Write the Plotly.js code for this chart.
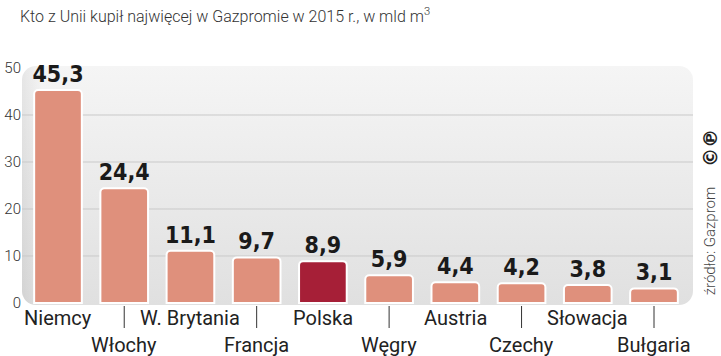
<!DOCTYPE html>
<html>
<head>
<meta charset="utf-8">
<script src="https://cdn.plot.ly/plotly-3.0.1.min.js"></script>
<style>html,body{margin:0;padding:0;background:#fff;}#chart{width:721px;height:356px;}</style>
</head>
<body>
<div id="chart"></div>
<script>
var categories = ["Niemcy","Włochy","W. Brytania","Francja","Polska","Węgry","Austria","Czechy","Słowacja","Bułgaria"];
var values = [45.3, 24.4, 11.1, 9.7, 8.9, 5.9, 4.4, 4.2, 3.8, 3.1];
var highlight = "Polska";
var yTicks = [0, 10, 20, 30, 40, 50];
var titleText = "Kto z Unii kupił najwięcej w Gazpromie w 2015 r., w mld m<sup>3</sup>";
var sourceText = "źródło: Gazprom";
var logoText = "©℗";

var barColor = "#df907c", hiColor = "#a61f37";
var colors = categories.map(function(c){ return c === highlight ? hiColor : barColor; });

var svg = '<svg xmlns="http://www.w3.org/2000/svg" width="671" height="239" viewBox="0 0 671 239" preserveAspectRatio="none">' +
  '<defs><linearGradient id="g" x1="0" y1="0" x2="0" y2="1"><stop offset="0" stop-color="#f5f5f5"/><stop offset="1" stop-color="#e0e0e0"/></linearGradient>' +
  '<linearGradient id="h" x1="0" y1="0" x2="1" y2="0"><stop offset="0" stop-color="#000" stop-opacity="0.06"/><stop offset="0.03" stop-color="#000" stop-opacity="0"/></linearGradient></defs>' +
  '<rect x="0" y="0" width="671" height="239" rx="14" ry="14" fill="url(#g)"/>' +
  '<rect x="0" y="0" width="671" height="239" rx="14" ry="14" fill="url(#h)"/></svg>';
var bgSrc = "data:image/svg+xml;charset=utf-8," + encodeURIComponent(svg);

var trace = {
  type: "bar",
  x: categories,
  y: values,
  marker: { color: colors, line: { color: "#ffffff", width: 2 }, cornerradius: 4 },
  texttemplate: "%{y:.1f}",
  textposition: "outside",
  constraintext: "none",
  cliponaxis: false,
  textfont: { family: "DejaVu Sans Condensed", size: 23, weight: "bold", color: "#1a1a1a" },
  hoverinfo: "none"
};

var annotations = [], shapes = [];
var plotH = 239;
categories.forEach(function(c, i){
  var second = i % 2 === 1;
  annotations.push({
    x: c, xref: "x", y: 0, yref: "paper", yanchor: "middle", xanchor: "center",
    yshift: second ? -40 : -13,
    text: c, showarrow: false,
    font: { family: "Roboto", size: 20, color: "#222222" }
  });
  if (second) {
    shapes.push({ type: "line", xref: "x", yref: "paper", x0: i, x1: i,
      y0: -1/plotH, y1: -23/plotH, line: { color: "#333333", width: 1 } });
  }
});
annotations.push({
  x: 1, xref: "paper", xanchor: "center", xshift: 17, y: 0.03, yref: "paper", yanchor: "bottom",
  textangle: -90, showarrow: false,
  text: sourceText,
  font: { family: "Roboto", size: 15, weight: 300, color: "#444444" }
});
annotations.push({
  x: 1, xref: "paper", xanchor: "center", xshift: 17, y: 0.57, yref: "paper", yanchor: "bottom",
  textangle: -90, showarrow: false,
  text: "<b>" + logoText + "</b>",
  font: { family: "DejaVu Sans", size: 19, color: "#222222" }
});

var layout = {
  width: 721, height: 356,
  margin: { l: 22, r: 28, t: 66, b: 51 },
  paper_bgcolor: "#ffffff",
  plot_bgcolor: "rgba(0,0,0,0)",
  separators: ",.",
  showlegend: false,
  bargap: 0.28,
  title: { text: titleText, x: 0, xref: "paper", xanchor: "left", y: 1, yref: "container", yanchor: "top", pad: { t: 11, l: -2 },
    font: { family: "Roboto", size: 16, weight: 300, color: "#333333" } },
  xaxis: { type: "category", showticklabels: false, showgrid: false, zeroline: false, showline: false, ticks: "", fixedrange: true },
  yaxis: { range: [-0.43, 50.43], tickvals: yTicks, ticktext: yTicks.map(String), showgrid: false, zeroline: false, showline: false,
    ticks: "", tickfont: { family: "Roboto", size: 15, weight: 300, color: "#333333" }, fixedrange: true },
  images: [{ source: bgSrc, xref: "paper", yref: "paper", x: 0, y: 1, sizex: 1, sizey: 1, sizing: "stretch", xanchor: "left", yanchor: "top", layer: "below" }],
  shapes: shapes.concat([10, 20, 30, 40].map(function(v){
    return { type: "line", xref: "paper", yref: "y", x0: 0, x1: 1, y0: v, y1: v, layer: "below", line: { color: "#c9c9c9", width: 1 } };
  })),
  annotations: annotations
};

Plotly.newPlot("chart", [trace], layout, { displayModeBar: false, staticPlot: true });
</script>
</body>
</html>
